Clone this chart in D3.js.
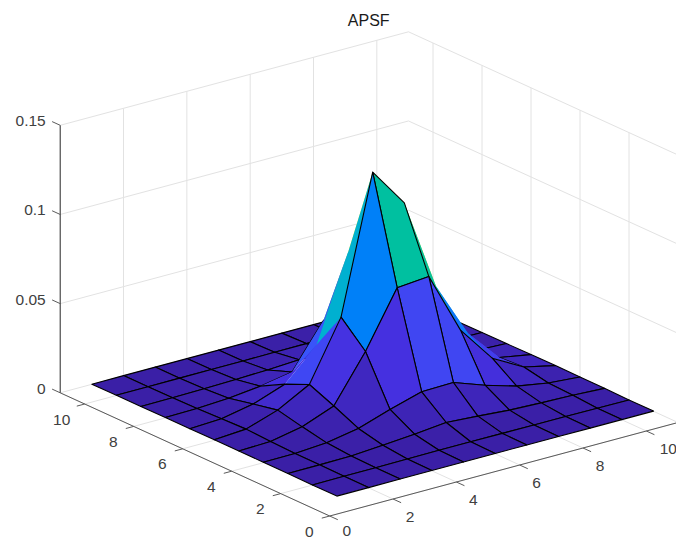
<!DOCTYPE html>
<html>
<head>
<meta charset="utf-8">
<script src="https://cdnjs.cloudflare.com/ajax/libs/d3/7.8.5/d3.min.js"></script>
<style>
    body { margin: 0; background: #fff; }
    svg { display: block; }
    text { font-family: "Liberation Sans", Arial, sans-serif; }
</style>
</head>
<body>
<script>
const title = 'APSF';
const xTicks = [0, 2, 4, 6, 8, 10];
const yTicks = [0, 2, 4, 6, 8, 10];
const zTicks = [0, 0.05, 0.1, 0.15];
const zTickLabels = ['0', '0.05', '0.1', '0.15'];

// surface grid, x and y run 1..11
const gridX = [1, 2, 3, 4, 5, 6, 7, 8, 9, 10, 11];
const gridY = [1, 2, 3, 4, 5, 6, 7, 8, 9, 10, 11];

// one row per y
const row1 = [.0001, .0001, .0002, .0002, .0002, .0002, .0002, .0002, .0001, .0001, .0001];
const row2 = [.0001, .0002, .0002, .0003, .0005, .0005, .0004, .0003, .0003, .0002, .0001];
const row3 = [.0002, .0003, .0005, .0018, .0032, .005, .0038, .0024, .0017, .0012, .0003];
const row4 = [.0002, .0004, .0016, .0049, .0108, .0159, .0164, .0101, .0048, .0018, .0004];
const row5 = [.0003, .0008, .0043, .0112, .037, .068, .0695, .0347, .0142, .0045, .0005];
const row6 = [.0003, .0015, .0074, .017, .05, .1265, .1045, .053, .022, .0035, .0004];
const row7 = [.0002, .001, .0045, .0109, .0281, .0755, .07, .05, .015, .001, .0003];
const row8 = [.0002, .0005, .0015, .0035, .0067, .031, .02, .008, .002, .0005, .0002];
const row9 = [.0001, .0003, .0005, .001, .0015, .0025, .002, .001, .0004, .0002, .0001];
const row10 = [.0001, .0001, .0002, .0003, .0003, .0004, .0005, .0002, .0002, .0001, .0001];
const row11 = [0, .0001, .0001, .0001, .0001, .0001, .0001, .0001, .0001, .0001, 0];
const rows = [row1, row2, row3, row4, row5, row6, row7, row8, row9, row10, row11];

// colormap as it looks in the picture
const colorValues = [0, .0108, .016, .029, .037, .05, .068, .09, .1265];
const colorNames = ['#3a1fa5', '#4530e0', '#4046f2', '#3855fa', '#0080f8', '#00b0d0', '#00c0a0', '#80c850', '#f9fb15'];

// cells around the peak are drawn without their own outline
const noEdge = ['4,6', '4,7', '5,6', '5,7', '6,6', '6,7', '7,5', '7,6', '7,7', '8,5', '8,6', '8,7', '9,5', '9,6', '9,7', '6,8', '7,8', '8,8'];

const w = 676;
const h = 538;

const svg = d3.select('body')
    .append('svg')
    .attr('width', w)
    .attr('height', h);

// view is orthographic, so each data axis just adds a fixed pixel shift
const xH = d3.scaleLinear().domain([0, 11]).range([329.7, 678]);
const xV = d3.scaleLinear().domain([0, 11]).range([516, 422.5]);
const yH = d3.scaleLinear().domain([0, 11]).range([0, -269.5]);
const yV = d3.scaleLinear().domain([0, 11]).range([0, -123.2]);
const zV = d3.scaleLinear().domain([0, 0.15]).range([0, -267.5]);
const color = d3.scaleLinear().domain(colorValues).range(colorNames).clamp(true);

const project = (x, y, z) => [xH(x) + yH(y), xV(x) + yV(y) + zV(z)];
const line = d3.line();

function seg(a, b, stroke, width) {
    svg.append('path')
        .attr('d', line([project(...a), project(...b)]))
        .attr('fill', 'none')
        .attr('stroke', stroke)
        .attr('stroke-width', width || 1);
}

const gridColor = '#e2e2e2';
const axisColor = '#5a5a5a';

// walls and floor grid
zTicks.forEach(z => {
    seg([0, 11, z], [11, 11, z], gridColor);
    seg([11, 11, z], [11, 0, z], gridColor);
});
xTicks.forEach(x => {
    if (x > 0) seg([x, 11, 0], [x, 11, 0.15], gridColor);
    seg([x, 0, 0], [x, 11, 0], gridColor);
});
yTicks.forEach(y => {
    if (y > 0) seg([11, y, 0], [11, y, 0.15], gridColor);
    seg([0, y, 0], [11, y, 0], gridColor);
});

// surface cells, far corner first so nearer ones paint over
const cells = [];
for (let j = gridY.length - 2; j >= 0; j--) {
    for (let i = gridX.length - 2; i >= 0; i--) {
        cells.push({ i: i, j: j });
    }
}

svg.append('g')
    .selectAll('path')
    .data(cells)
    .enter()
    .append('path')
    .attr('d', d => line([
        project(gridX[d.i], gridY[d.j], rows[d.j][d.i]),
        project(gridX[d.i + 1], gridY[d.j], rows[d.j][d.i + 1]),
        project(gridX[d.i + 1], gridY[d.j + 1], rows[d.j + 1][d.i + 1]),
        project(gridX[d.i], gridY[d.j + 1], rows[d.j + 1][d.i])
    ]) + 'Z')
    .attr('fill', d => color(rows[d.j][d.i]))
    .attr('stroke', d => noEdge.includes(gridX[d.i] + ',' + gridY[d.j]) ? 'none' : '#000')
    .attr('stroke-width', 1.1)
    .attr('stroke-linejoin', 'round');

// axes
seg([0, 11, 0], [0, 11, 0.15], '#262626');
seg([0, 0, 0], [0, 11, 0], axisColor);
seg([0, 0, 0], [11, 0, 0], axisColor);

xTicks.forEach(x => seg([x, 0, 0], [x, -0.33, 0], axisColor));
yTicks.forEach(y => seg([0, y, 0], [-0.25, y, 0], axisColor));
zTicks.forEach(z => seg([0, 11, z], [0, 11.33, z], axisColor));

const labels = svg.append('g')
    .attr('font-size', '15.5px')
    .attr('fill', '#404040')
    .attr('text-anchor', 'middle');

labels.selectAll('.xl')
    .data(xTicks)
    .enter()
    .append('text')
    .attr('class', 'xl')
    .attr('x', d => project(d, 0, 0)[0] + (d === 10 ? 22 : 17))
    .attr('y', d => Math.min(project(d, 0, 0)[1] + 22.5, 536))
    .text(d => d);

labels.selectAll('.yl')
    .data(yTicks)
    .enter()
    .append('text')
    .attr('class', 'yl')
    .attr('x', d => project(0, d, 0)[0] - (d === 10 ? 23 : 20.5))
    .attr('y', d => project(0, d, 0)[1] + 20.5)
    .text(d => d);

labels.selectAll('.zl')
    .data(zTicks)
    .enter()
    .append('text')
    .attr('class', 'zl')
    .attr('text-anchor', 'end')
    .attr('x', d => project(0, 11, d)[0] - 14.5)
    .attr('y', d => project(0, 11, d)[1] + 1)
    .text((d, i) => zTickLabels[i]);

svg.append('text')
    .attr('x', 368.7)
    .attr('y', 26)
    .attr('text-anchor', 'middle')
    .attr('font-size', '16px')
    .attr('fill', '#1a1a1a')
    .text(title);
</script>
</body>
</html>
